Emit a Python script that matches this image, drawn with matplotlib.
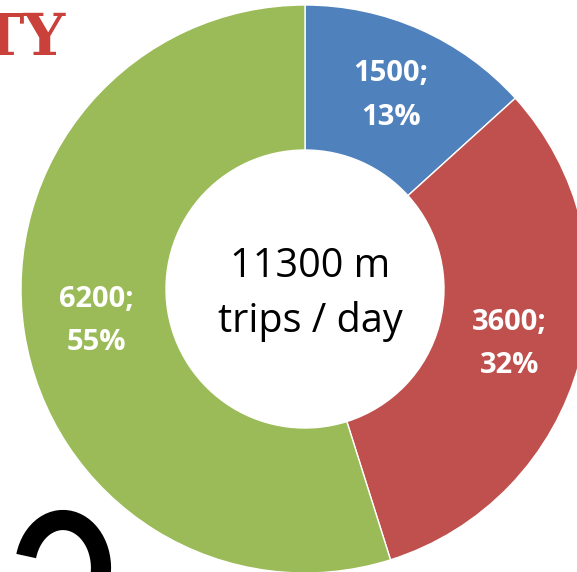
import matplotlib
matplotlib.use("Agg")
import matplotlib.pyplot as plt
from matplotlib.patches import Arc

# trips per day (millions) by segment, clockwise from top
values = [1500, 3600, 6200]
colors = ['#4F81BD', '#C0504D', '#9BBB59']
total_label = ['11300 m', 'trips / day']

W, H = 577, 572
fig = plt.figure(figsize=(W / 100, H / 100), dpi=100)
ax = fig.add_axes([0, 0, 1, 1])
ax.set_xlim(0, W)
ax.set_ylim(0, H)
ax.set_aspect('equal')
ax.axis('off')

cx, cy = 305, H - 289  # donut centre (pixels, y up)
total = sum(values)

def fmt(p):
    v = int(round(p * total / 100.0))
    return '%d;\n%d%%' % (v, round(p))

wedges, texts, autotexts = ax.pie(
    values, colors=colors, startangle=90, counterclock=False,
    center=(cx, cy), radius=284, autopct=fmt, pctdistance=0.745,
    wedgeprops=dict(width=145, edgecolor='white', linewidth=1),
    textprops=dict(color='white', fontsize=21, fontweight='bold',
                   family='Open Sans', linespacing=1.65))
ax.set_xlim(0, W)
ax.set_ylim(0, H)

# centre text
ax.text(cx + 5, H - 277, total_label[0], ha='center', va='baseline',
        fontsize=28.5, family='Open Sans', color='black')
ax.text(cx + 5, H - 332, total_label[1], ha='center', va='baseline',
        fontsize=28.5, family='Open Sans', color='black')

# cut-off title fragment and glyph from the surrounding slide
ax.text(66, H - 55, 'TY', ha='right', va='baseline', fontsize=42,
        family='DejaVu Serif', fontweight='bold', color='#C9413A')
ax.add_patch(Arc((63, H - 568), 76, 96, theta1=-25, theta2=162,
                 linewidth=14.5, color='black', capstyle='butt'))

fig.savefig('out.png', dpi=100)
